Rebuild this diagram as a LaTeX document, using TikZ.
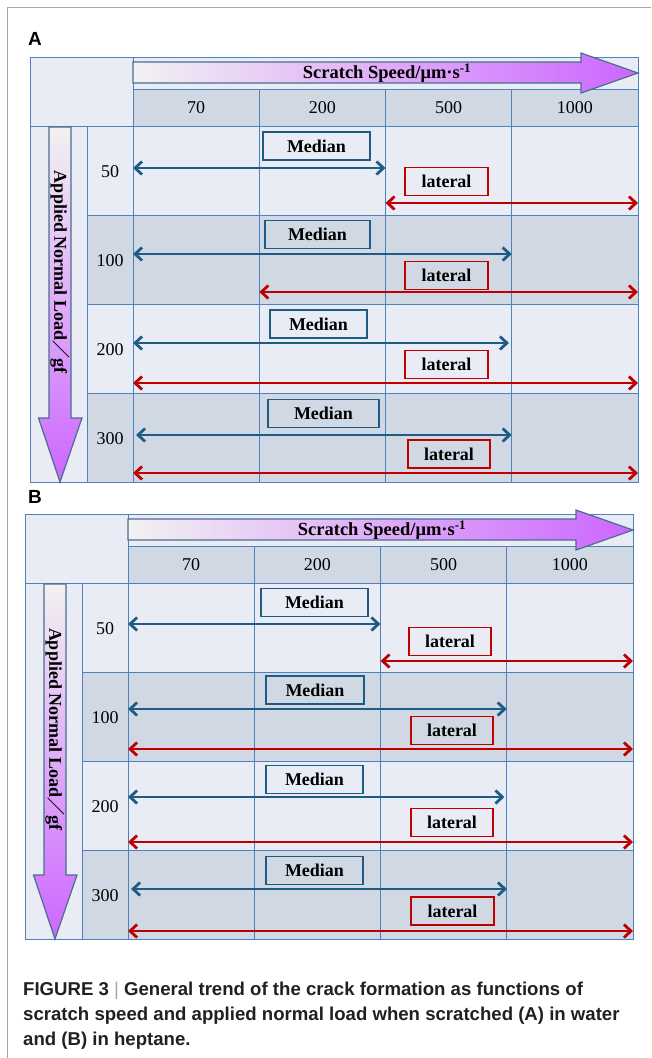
\documentclass[tikz,border=0pt]{standalone}
\usepackage{fontspec}
\setmainfont{Liberation Serif}
\newfontfamily\capfont{Liberation Sans}
\newfontfamily\cjk{Noto Sans CJK SC}
\usetikzlibrary{arrows.meta}
\usetikzlibrary{positioning}
\usetikzlibrary{calc}

\definecolor{cellLight}{HTML}{E9ECF4}
\definecolor{cellDark}{HTML}{D0D8E4}
\definecolor{gridBlue}{HTML}{4F81BD}
\definecolor{medBlue}{HTML}{1F5C85}
\definecolor{latRed}{HTML}{C00000}
\definecolor{arrowEdge}{HTML}{4A6E8F}
\definecolor{arrowViolet}{HTML}{CC66FF}
\definecolor{arrowPale}{HTML}{F2F2F2}
\definecolor{frameGray}{HTML}{A6A6A6}
\definecolor{capGray}{HTML}{231F20}

\tikzset{
  gridline/.style={gridBlue, line width=0.9pt},
  bigarrow/.style={draw=arrowEdge, line width=1.2pt, line join=miter},
  medbox/.style={draw=medBlue, line width=1.7pt, minimum height=28pt, inner sep=0pt,
    font=\bfseries\fontsize{18}{18}\selectfont},
  latbox/.style={draw=latRed, line width=1.7pt, minimum height=28pt, inner sep=0pt,
    font=\bfseries\fontsize{18}{18}\selectfont},
  medarr/.style={medBlue, line width=2.8pt,
    {Straight Barb[length=7pt,width=13pt]}-{Straight Barb[length=7pt,width=13pt]}},
  latarr/.style={latRed, line width=2.8pt,
    {Straight Barb[length=7pt,width=13pt]}-{Straight Barb[length=7pt,width=13pt]}},
  numlabel/.style={font=\fontsize{18}{18}\selectfont, inner sep=0pt},
  speedlabel/.style={font=\bfseries\fontsize{18.5}{18}\selectfont, inner sep=0pt},
  loadlabel/.style={font=\bfseries\fontsize{18}{18}\selectfont, inner sep=0pt, rotate=-90},
  panellabel/.style={font=\capfont\bfseries\fontsize{19}{19}\selectfont, inner sep=0pt},
  captext/.style={font=\capfont\bfseries\fontsize{18.6}{25}\selectfont, text=capGray,
    align=left, inner sep=0pt}
}

\begin{document}
\begin{tikzpicture}[x=1pt,y=-1pt]
  \useasboundingbox (0,0) rectangle (651,1058);

  % 外框
  \draw[frameGray, line width=1.3pt] (7.5,1058) -- (7.5,7.5) -- (651,7.5);

  % 面板标签
  \node[panellabel] (labA) at (35,39) {A};
  \node[panellabel] (labB) at (35,497) {B};

  % 两个面板的表格
  \foreach \p/\ox/\oy in {A/30/57, B/25/514}{
    \begin{scope}[shift={(\ox,\oy)}]
      % 单元格
      \fill[cellLight] (0,0) rectangle (608,425);
      \fill[cellDark] (103,32) rectangle (608,69);
      \fill[cellDark] (57,158) rectangle (608,247);
      \fill[cellDark] (57,336) rectangle (608,425);
      % 网格线
      \draw[gridline] (0,0) rectangle (608,425);
      \draw[gridline] (103,32) -- (608,32);
      \draw[gridline] (0,69) -- (608,69);
      \foreach \y in {158,247,336} \draw[gridline] (57,\y) -- (608,\y);
      \draw[gridline] (57,69) -- (57,425);
      \draw[gridline] (103,0) -- (103,425);
      \foreach \x in {229.25,355.5,481.75} \draw[gridline] (\x,32) -- (\x,425);
      % 速度箭头
      \draw[bigarrow, left color=arrowPale, right color=arrowViolet]
        (103,5) -- (551,5) -- (551,-4) -- (608,16) -- (551,36) -- (551,26) -- (103,26) -- cycle;
      \node[speedlabel] (\p-speed) at (357,16) {Scratch Speed/μm·s\textsuperscript{-1}};
      % 载荷箭头
      \draw[bigarrow, top color=arrowPale, bottom color=arrowViolet]
        (19,70) -- (41,70) -- (41,361) -- (52,361) -- (30,425) -- (8.5,361) -- (19,361) -- cycle;
      \node[loadlabel] (\p-load) at (30,215) {Applied Normal Load{\cjk ／}gf};
      % 速度与载荷数值
      \foreach \s [count=\i] in {70,200,500,1000}
        \node[numlabel] (\p-s\i) at ({103+126.25*\i-63.125},50.5) {\s};
      \foreach \l [count=\i] in {50,100,200,300}
        \node[numlabel] (\p-l\i) at (80,{69+89*\i-43.5}) {\l};
    \end{scope}
  }

  % (A) 水中
  \begin{scope}[shift={(30,57)}]
    % 50
    \node[medbox, minimum width=107pt] (A-m1) at (286.5,89) {Median};
    \coordinate (A-b1s) at (103,111); \coordinate (A-b1e) at (355.5,111);
    \draw[medarr] (A-b1s) -- (A-b1e);
    \node[latbox, minimum width=83pt] (A-t1) at (416.5,124.5) {lateral};
    \coordinate (A-r1s) at (355.5,146); \coordinate (A-r1e) at (608,146);
    \draw[latarr] (A-r1s) -- (A-r1e);
    % 100
    \node[medbox, minimum width=105pt] (A-m2) at (287.5,177.5) {Median};
    \coordinate (A-b2s) at (103,197); \coordinate (A-b2e) at (481.75,197);
    \draw[medarr] (A-b2s) -- (A-b2e);
    \node[latbox, minimum width=83pt] (A-t2) at (416.5,218.5) {lateral};
    \coordinate (A-r2s) at (229.25,235); \coordinate (A-r2e) at (608,235);
    \draw[latarr] (A-r2s) -- (A-r2e);
    % 200
    \node[medbox, minimum width=97pt] (A-m3) at (288.5,267) {Median};
    \coordinate (A-b3s) at (103,286); \coordinate (A-b3e) at (479,286);
    \draw[medarr] (A-b3s) -- (A-b3e);
    \node[latbox, minimum width=83pt] (A-t3) at (416.5,307.5) {lateral};
    \coordinate (A-r3s) at (103,326); \coordinate (A-r3e) at (608,326);
    \draw[latarr] (A-r3s) -- (A-r3e);
    % 300
    \node[medbox, minimum width=111pt] (A-m4) at (293.5,356.5) {Median};
    \coordinate (A-b4s) at (106,378); \coordinate (A-b4e) at (481.75,378);
    \draw[medarr] (A-b4s) -- (A-b4e);
    \node[latbox, minimum width=82pt] (A-t4) at (419,397) {lateral};
    \coordinate (A-r4s) at (103,416); \coordinate (A-r4e) at (608,416);
    \draw[latarr] (A-r4s) -- (A-r4e);
  \end{scope}

  % (B) 庚烷中
  \begin{scope}[shift={(25,514)}]
    % 50
    \node[medbox, minimum width=107pt] (B-m1) at (289.5,88.5) {Median};
    \coordinate (B-b1s) at (103,110); \coordinate (B-b1e) at (355.5,110);
    \draw[medarr] (B-b1s) -- (B-b1e);
    \node[latbox, minimum width=82pt] (B-t1) at (425,127.5) {lateral};
    \coordinate (B-r1s) at (355.5,147); \coordinate (B-r1e) at (608,147);
    \draw[latarr] (B-r1s) -- (B-r1e);
    % 100
    \node[medbox, minimum width=98pt] (B-m2) at (290,176) {Median};
    \coordinate (B-b2s) at (103,195); \coordinate (B-b2e) at (481.75,195);
    \draw[medarr] (B-b2s) -- (B-b2e);
    \node[latbox, minimum width=82pt] (B-t2) at (427,216.5) {lateral};
    \coordinate (B-r2s) at (103,235); \coordinate (B-r2e) at (608,235);
    \draw[latarr] (B-r2s) -- (B-r2e);
    % 200
    \node[medbox, minimum width=97pt] (B-m3) at (289.5,265.5) {Median};
    \coordinate (B-b3s) at (103,283); \coordinate (B-b3e) at (479.5,283);
    \draw[medarr] (B-b3s) -- (B-b3e);
    \node[latbox, minimum width=82pt] (B-t3) at (427,308.5) {lateral};
    \coordinate (B-r3s) at (103,328); \coordinate (B-r3e) at (608,328);
    \draw[latarr] (B-r3s) -- (B-r3e);
    % 300
    \node[medbox, minimum width=97pt] (B-m4) at (289.5,356.5) {Median};
    \coordinate (B-b4s) at (106,375); \coordinate (B-b4e) at (482,375);
    \draw[medarr] (B-b4s) -- (B-b4e);
    \node[latbox, minimum width=83pt] (B-t4) at (427.5,397) {lateral};
    \coordinate (B-r4s) at (103,417); \coordinate (B-r4e) at (608,417);
    \draw[latarr] (B-r4s) -- (B-r4e);
  \end{scope}

  % 图注
  \node[captext, anchor=base west] (caption) at (23,1045)
    {FIGURE 3 {\fontseries{m}\selectfont\color{frameGray}|} General trend of the crack formation as functions of\\
     scratch speed and applied normal load when scratched (A) in water\\
     and (B) in heptane.};
\end{tikzpicture}
\end{document}
